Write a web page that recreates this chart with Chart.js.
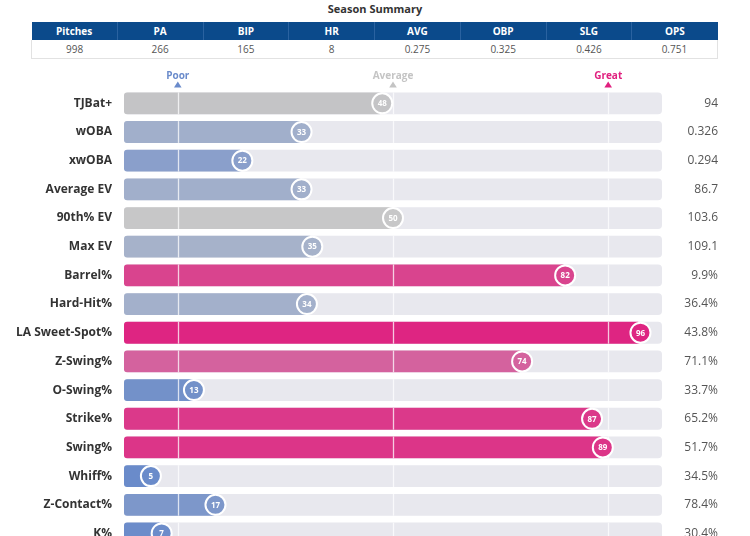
<!DOCTYPE html>
<html>
<head>
<meta charset="utf-8">
<script src="https://cdn.jsdelivr.net/npm/chart.js@4.4.1/dist/chart.umd.min.js"></script>
<style>
  html, body { margin: 0; padding: 0; background: #fff; overflow: hidden; width: 750px; height: 536px; }
  body { font-family: "Open Sans", sans-serif; position: relative; }
  #title { position: absolute; top: 1px; left: 0; width: 750px; text-align: center; font-size: 11px; font-weight: bold; color: #333; }
  #summary { position: absolute; top: 22px; left: 31px; width: 687px; border-collapse: collapse; table-layout: fixed; font-size: 10px; }
  #summary th { background: #0b4a8b; color: #fff; font-weight: bold; height: 18px; padding: 0; border-left: 1px solid #2a62a0; }
  #summary th:first-child { border-left: none; }
  #summary td { color: #555; text-align: center; height: 18px; padding: 0; border: 1px solid #e2e2e2; border-top: none; border-left: none; border-right: none; }
  #summary tr td:first-child { border-left: 1px solid #e2e2e2; }
  #summary tr td:last-child { border-right: 1px solid #e2e2e2; }
  #pctChart { position: absolute; top: 62px; left: 0; }
</style>
</head>
<body>
<div id="title">Season Summary</div>
<table id="summary"><thead><tr></tr></thead><tbody><tr></tr></tbody></table>
<canvas id="pctChart" width="750" height="505"></canvas>
<script>
// summary table
const summaryHeaders = ["Pitches", "PA", "BIP", "HR", "AVG", "OBP", "SLG", "OPS"];
const summaryValues = ["998", "266", "165", "8", "0.275", "0.325", "0.426", "0.751"];

// percentile rows
const metrics = ["TJBat+", "wOBA", "xwOBA", "Average EV", "90th% EV", "Max EV", "Barrel%", "Hard-Hit%",
  "LA Sweet-Spot%", "Z-Swing%", "O-Swing%", "Strike%", "Swing%", "Whiff%", "Z-Contact%", "K%"];
const percentiles = [48, 33, 22, 33, 50, 35, 82, 34, 96, 74, 13, 87, 89, 5, 17, 7];
const statValues = ["94", "0.326", "0.294", "86.7", "103.6", "109.1", "9.9%", "36.4%",
  "43.8%", "71.1%", "33.7%", "65.2%", "51.7%", "34.5%", "78.4%", "30.4%"];

// reference markers
const markerLabels = ["Poor", "Average", "Great"];
const markerValues = [10, 50, 90];
const markerColors = ["#6a8bcb", "#c4c4c4", "#e0207f"];

document.querySelector("#summary thead tr").innerHTML = summaryHeaders.map(h => `<th>${h}</th>`).join("");
document.querySelector("#summary tbody tr").innerHTML = summaryValues.map(v => `<td>${v}</td>`).join("");

// blue -> grey -> pink ramp
const ramp = [
  [0, [100, 135, 203]], [13, [115, 145, 201]], [22, [138, 159, 203]], [33, [161, 175, 203]],
  [48, [196, 196, 198]], [50, [199, 199, 200]], [74, [212, 98, 158]], [82, [217, 68, 142]],
  [96, [222, 37, 130]], [100, [224, 30, 127]]
];
function pctColor(p) {
  for (let i = 1; i < ramp.length; i++) {
    if (p <= ramp[i][0]) {
      const a = ramp[i - 1], b = ramp[i];
      const t = (p - a[0]) / (b[0] - a[0]);
      const c = a[1].map((v, k) => Math.round(v + (b[1][k] - v) * t));
      return `rgb(${c[0]},${c[1]},${c[2]})`;
    }
  }
  return "rgb(224,30,127)";
}

const overlayPlugin = {
  id: "overlay",
  afterDatasetsDraw(chart) {
    const ctx = chart.ctx;
    const x = chart.scales.x;
    const meta = chart.getDatasetMeta(1);
    ctx.save();
    // reference lines inside each bar
    meta.data.forEach(bar => {
      const h = bar.height;
      markerValues.forEach(v => {
        const px = Math.round(x.getPixelForValue(v)) + 0.5;
        ctx.strokeStyle = "rgba(255,255,255,0.75)";
        ctx.lineWidth = 1.3;
        ctx.beginPath();
        ctx.moveTo(px, bar.y - h / 2);
        ctx.lineTo(px, bar.y + h / 2);
        ctx.stroke();
      });
    });
    // circles with percentile
    meta.data.forEach((bar, i) => {
      const p = percentiles[i];
      ctx.beginPath();
      ctx.arc(bar.x, bar.y, 10, 0, Math.PI * 2);
      ctx.fillStyle = pctColor(p);
      ctx.fill();
      ctx.lineWidth = 2;
      ctx.strokeStyle = "#fff";
      ctx.stroke();
      ctx.fillStyle = "#fff";
      ctx.font = "bold 8px 'Open Sans'";
      ctx.textAlign = "center";
      ctx.textBaseline = "middle";
      ctx.fillText(String(p), bar.x, bar.y + 0.5);
      // stat value on the right
      ctx.fillStyle = "#555";
      ctx.font = "12px 'Open Sans'";
      ctx.textAlign = "right";
      ctx.fillText(statValues[i], 718, bar.y);
    });
    // Poor / Average / Great markers
    markerValues.forEach((v, i) => {
      const px = x.getPixelForValue(v);
      ctx.fillStyle = markerColors[i];
      ctx.font = "bold 10px 'Open Sans'";
      ctx.textAlign = "center";
      ctx.textBaseline = "middle";
      ctx.fillText(markerLabels[i], px, 14);
      ctx.beginPath();
      ctx.moveTo(px, 19.5);
      ctx.lineTo(px - 3.8, 25.5);
      ctx.lineTo(px + 3.8, 25.5);
      ctx.closePath();
      ctx.fill();
    });
    ctx.restore();
  }
};

new Chart(document.getElementById("pctChart"), {
  type: "bar",
  data: {
    labels: metrics,
    datasets: [
      {
        data: metrics.map(() => 100),
        backgroundColor: "#e8e8ee",
        borderRadius: 4,
        borderSkipped: false,
        grouped: false,
        order: 2
      },
      {
        data: percentiles,
        backgroundColor: percentiles.map(pctColor),
        borderRadius: 3,
        borderSkipped: false,
        grouped: false,
        order: 1
      }
    ]
  },
  options: {
    indexAxis: "y",
    responsive: false,
    animation: false,
    barPercentage: 0.76,
    categoryPercentage: 1,
    layout: { padding: { top: 27, right: 88, bottom: 0, left: 0 } },
    plugins: { legend: { display: false }, tooltip: { enabled: false } },
    scales: {
      x: { display: false, min: 0, max: 100 },
      y: {
        grid: { display: false, drawTicks: false },
        border: { display: false },
        ticks: { color: "#333", font: { family: "Open Sans", size: 12, weight: "bold" }, padding: 12 },
        afterFit(scale) { scale.width = 124; }
      }
    }
  },
  plugins: [overlayPlugin]
});
</script>
</body>
</html>
